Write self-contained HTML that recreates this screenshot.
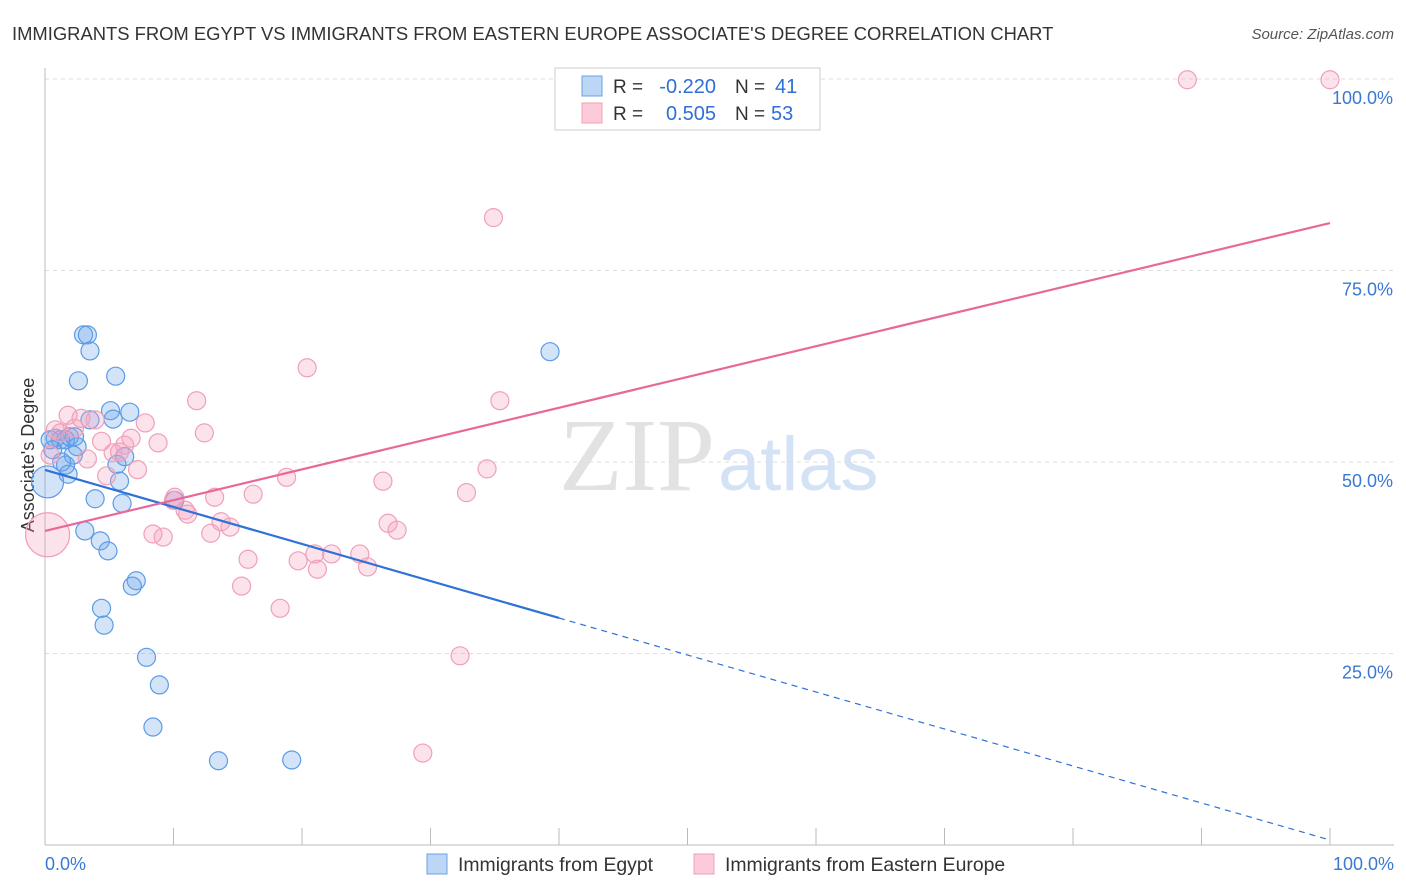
<!DOCTYPE html>
<html><head><meta charset="utf-8"><style>
body{margin:0;background:#fff;font-family:"Liberation Sans",sans-serif}
svg{display:block}
</style></head><body>
<svg width="1406" height="892" id="chart">
<text x="12" y="40" font-size="18.4" fill="#333">IMMIGRANTS FROM EGYPT VS IMMIGRANTS FROM EASTERN EUROPE ASSOCIATE'S DEGREE CORRELATION CHART</text>
<text x="1394" y="39" font-size="15" fill="#555" font-style="italic" text-anchor="end">Source: ZipAtlas.com</text>
<text x="715" y="490" font-size="104" fill="#e2e2e2" text-anchor="end" font-family="Liberation Serif,serif">ZIP</text>
<text x="718" y="490" font-size="76" fill="#d3e2f4">atlas</text>
<text x="34" y="455" font-size="18" fill="#333" text-anchor="middle" transform="rotate(-90 34 455)">Associate's Degree</text>
<g id="grid"></g><g id="pts"></g><g id="lines"></g>
<g>
<rect x="555" y="68" width="265" height="62" fill="#fff" stroke="#ccc"/>
<rect x="582" y="76" width="20" height="20" fill="#bcd6f5" stroke="#6aa0e6"/>
<rect x="582" y="103" width="20" height="20" fill="#fbcbd9" stroke="#f0a0b8"/>
<text x="613" y="93" font-size="19" fill="#333">R =</text>
<text x="716" y="93" font-size="20" fill="#2f6fd6" text-anchor="end">-0.220</text>
<text x="735" y="93" font-size="19" fill="#333">N =</text>
<text x="775" y="93" font-size="20" fill="#2f6fd6">41</text>
<text x="613" y="120" font-size="19" fill="#333">R =</text>
<text x="716" y="120" font-size="20" fill="#2f6fd6" text-anchor="end">0.505</text>
<text x="735" y="120" font-size="19" fill="#333">N =</text>
<text x="771" y="120" font-size="20" fill="#2f6fd6">53</text>
</g>
<g>
<rect x="427" y="854" width="20" height="20" fill="#bcd6f5" stroke="#6aa0e6"/>
<text x="458" y="871" font-size="19.4" fill="#333">Immigrants from Egypt</text>
<rect x="694" y="854" width="20" height="20" fill="#fbcbd9" stroke="#f0a0b8"/>
<text x="725" y="871" font-size="19.4" fill="#333">Immigrants from Eastern Europe</text>
</g>
</svg>
<script>
const yTicks=[100,75,50,25];
const yTickLabels=["100.0%","75.0%","50.0%","25.0%"];
const xEndLabels=["0.0%","100.0%"];
const blueX=[3.0,3.3,3.5,2.6,5.5,5.1,6.6,5.3,0.8,1.2,1.6,1.9,2.3,0.4,2.5,2.2,1.6,1.8,5.6,6.2,5.8,0.2,3.9,6.0,10.1,3.1,4.3,4.9,7.1,6.8,4.4,4.6,7.9,8.9,8.4,13.5,19.2,39.3,3.5,1.3,0.6];
const blueY=[66.6,66.6,64.5,60.6,61.2,56.7,56.5,55.6,53.1,52.9,52.9,53.3,53.3,52.9,52.0,50.9,49.6,48.4,49.7,50.7,47.5,47.4,45.2,44.6,45.0,41.0,39.7,38.4,34.5,33.8,30.9,28.7,24.5,20.9,15.4,11.0,11.1,64.4,55.5,50.0,51.6];
const pinkX=[88.9,100,34.9,20.4,35.4,11.8,1.8,2.8,3.9,7.8,2.3,1.2,12.4,6.7,4.4,8.8,6.2,5.3,3.3,7.2,4.8,18.8,34.4,26.3,32.8,16.2,13.2,10.0,10.9,11.1,13.7,14.4,26.7,27.4,12.9,8.4,9.2,15.8,19.7,21.0,22.3,24.5,25.1,21.2,15.3,18.3,32.3,29.4,0.2,0.4,0.8,5.8,10.1];
const pinkY=[99.9,99.9,81.9,62.3,58.0,58.0,56.1,55.7,55.5,55.1,54.4,53.8,53.8,53.1,52.7,52.5,52.2,51.2,50.4,49.0,48.2,48.0,49.1,47.5,46.0,45.8,45.4,45.0,43.7,43.2,42.2,41.5,42.0,41.1,40.7,40.6,40.2,37.3,37.1,38.0,38.0,38.0,36.3,36.0,33.8,30.9,24.7,12.0,40.5,50.9,54.2,51.3,45.4];
const blueTrend=[48.96,0.65];
const pinkTrend=[41.0,81.2];
const X0=45,X1=1330,Y0=845,Y100=79;
const sx=v=>X0+(X1-X0)*v/100, sy=v=>Y0-(Y0-Y100)*v/100;
const NS="http://www.w3.org/2000/svg";
function mk(t,a,p){const e=document.createElementNS(NS,t);for(const k in a)e.setAttribute(k,a[k]);document.getElementById(p).appendChild(e);return e;}
yTicks.forEach((v,i)=>{
 const l=mk('line',{x1:X0,x2:1394,y1:sy(v),y2:sy(v),stroke:'#ddd','stroke-dasharray':'4 4'},'grid');
 
 
 const t=mk('text',{x:1393,y:sy(v)+25,'font-size':18,fill:'#3a78d4','text-anchor':'end'},'grid');t.textContent=yTickLabels[i];
 
 
});
const ax=mk('line',{x1:X0,x2:X0,y1:68,y2:Y0,stroke:'#bbb'},'grid');


const bx=mk('line',{x1:X0,x2:1394,y1:Y0,y2:Y0,stroke:'#bbb'},'grid');


for(let i=1;i<=10;i++){const tk=mk('line',{x1:sx(i*10),x2:sx(i*10),y1:Y0,y2:828,stroke:'#bbb'},'grid');
 
 }
[[0,'start',45],[100,'end',1394]].forEach((d,i)=>{const t=mk('text',{x:d[2],y:870,'font-size':18,fill:'#3a78d4','text-anchor':d[1]},'grid');t.textContent=xEndLabels[i];
 
 });
blueX.forEach((x,i)=>{const big=(x<0.5&&Math.abs(blueY[i]-47.4)<1);const c=mk('circle',{cx:sx(x),cy:sy(blueY[i]),r:big?16:9,fill:'rgba(110,165,235,0.3)',stroke:'#5b9be6','stroke-width':1.2},'pts');
 
 });
pinkX.forEach((x,i)=>{const big=(x<0.5&&Math.abs(pinkY[i]-40.5)<1);const c=mk('circle',{cx:sx(x),cy:sy(pinkY[i]),r:big?22:9,fill:'rgba(245,160,190,0.3)',stroke:'#f0a0b8','stroke-width':1.2},'pts');
 
 });
const bAt=x=>blueTrend[0]+(blueTrend[1]-blueTrend[0])*x/100;
const b1=mk('line',{x1:sx(0),y1:sy(bAt(0)),x2:sx(40),y2:sy(bAt(40)),stroke:'#2f72d6','stroke-width':2.2},'lines');


const b2=mk('line',{x1:sx(40),y1:sy(bAt(40)),x2:sx(100),y2:sy(bAt(100)),stroke:'#2f72d6','stroke-width':1.2,'stroke-dasharray':'6 5'},'lines');


const p1=mk('line',{x1:sx(0),y1:sy(pinkTrend[0]),x2:sx(100),y2:sy(pinkTrend[1]),stroke:'#e8689a','stroke-width':2.2},'lines');


</script>
</body></html>
